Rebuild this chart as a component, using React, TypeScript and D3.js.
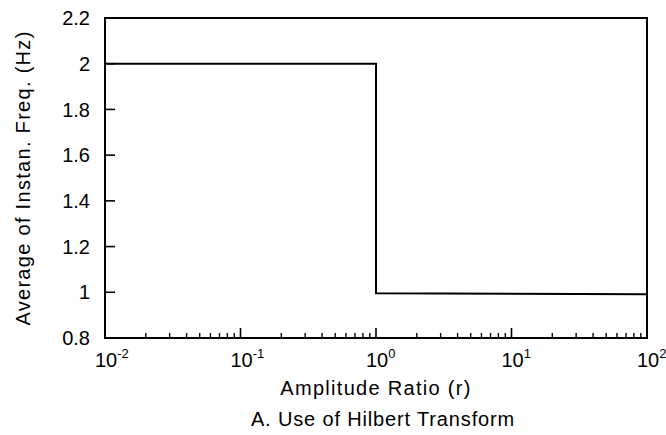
import React from "react";
import * as d3 from "d3";

// Step response of the averaged instantaneous frequency vs amplitude ratio
const ratio: number[] = [0.01, 1, 1, 100];
const avgFreq: number[] = [2.0, 2.0, 0.996, 0.991];

const yTicks: number[] = [0.8, 1, 1.2, 1.4, 1.6, 1.8, 2, 2.2];
const xDecades: number[] = [-2, -1, 0, 1, 2];

const W = 666;
const H = 435;
const margin = { left: 105, right: 19, top: 18, bottom: 97 };
const FONT = "'Liberation Sans', Arial, Helvetica, sans-serif";

export default function App() {
  const x = d3
    .scaleLog()
    .domain([1e-2, 1e2])
    .range([margin.left, W - margin.right]);
  const y = d3
    .scaleLinear()
    .domain([0.8, 2.2])
    .range([H - margin.bottom, margin.top]);

  const line = d3
    .line<number>()
    .x((_, i) => x(ratio[i]))
    .y((d) => y(d));

  const minor: number[] = [];
  for (let e = -2; e < 2; e++) {
    for (let k = 2; k <= 9; k++) minor.push(k * Math.pow(10, e));
  }

  const x0 = margin.left;
  const x1 = W - margin.right;
  const y0 = H - margin.bottom;
  const y1 = margin.top;

  return (
    <svg
      width={W}
      height={H}
      style={{ position: "absolute", left: 0, top: 0, background: "#fff" }}
      fontFamily={FONT}
    >
      <rect x={0} y={0} width={W} height={H} fill="#fff" />
      {/* frame */}
      <rect
        x={x0}
        y={y1}
        width={x1 - x0}
        height={y0 - y1}
        fill="none"
        stroke="#000"
        strokeWidth={2}
      />
      {/* y ticks */}
      {yTicks.map((t) => (
        <g key={"y" + t}>
          <line x1={x0} x2={x0 + 10} y1={y(t)} y2={y(t)} stroke="#000" strokeWidth={1.6} />
          <text
            x={90}
            y={y(t)}
            dy="0.36em"
            textAnchor="end"
            fontSize={20}
            fill="#000"
          >
            {String(t)}
          </text>
        </g>
      ))}
      {/* x minor ticks */}
      {minor.map((m) => (
        <line
          key={"m" + m}
          x1={x(m)}
          x2={x(m)}
          y1={y0}
          y2={y0 - 5}
          stroke="#000"
          strokeWidth={1.4}
        />
      ))}
      {/* x major ticks */}
      {xDecades.map((e) => {
        const v = Math.pow(10, e);
        return (
          <g key={"x" + e}>
            <line x1={x(v)} x2={x(v)} y1={y0} y2={y0 - 10} stroke="#000" strokeWidth={1.6} />
            <text x={x(v) - 10} y={367} fontSize={20} fill="#000">
              10
              <tspan dy={-9} fontSize={13}>
                {e < 0 ? "-" + Math.abs(e) : String(e)}
              </tspan>
            </text>
          </g>
        );
      })}
      {/* data */}
      <path d={line(avgFreq) ?? ""} fill="none" stroke="#000" strokeWidth={2} />
      {/* axis titles */}
      <text
        x={(x0 + x1) / 2}
        y={395}
        textAnchor="middle"
        fontSize={20}
        letterSpacing={1.3}
        fill="#000"
      >
        Amplitude Ratio (r)
      </text>
      <text
        transform={`translate(30, ${(y0 + y1) / 2}) rotate(-90)`}
        textAnchor="middle"
        fontSize={20}
        letterSpacing={1.3}
        fill="#000"
      >
        Average of Instan. Freq. (Hz)
      </text>
      <text
        x={383}
        y={426}
        textAnchor="middle"
        fontSize={20}
        letterSpacing={0.85}
        fill="#000"
      >
        A. Use of Hilbert Transform
      </text>
    </svg>
  );
}
